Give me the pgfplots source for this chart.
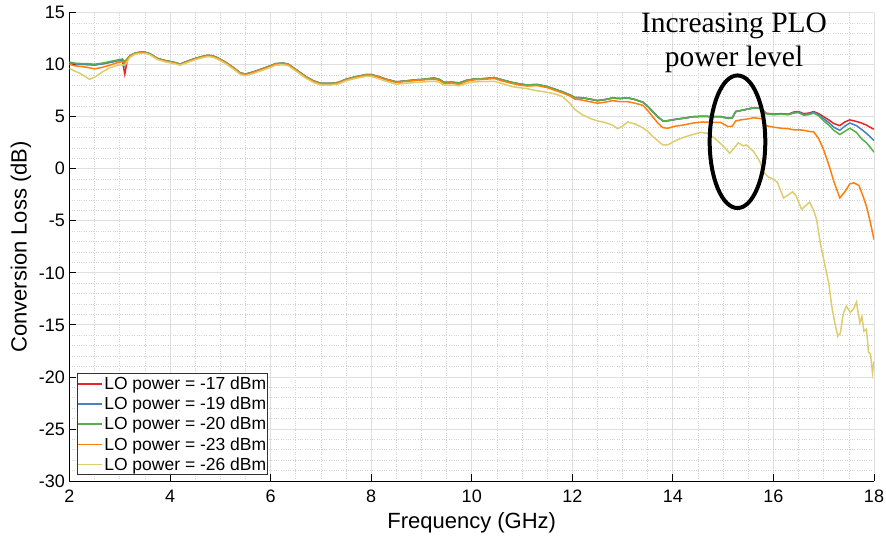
\documentclass[border=0pt]{standalone}
\usepackage{pgfplots}
\pgfplotsset{compat=1.18}
\usepackage{pgfplotstable}
\usepackage{fontspec}
\setmainfont{Liberation Sans}
\newfontfamily\timesfont{Liberation Serif}

\definecolor{cred}{RGB}{228,38,40}
\definecolor{cblue}{RGB}{70,130,195}
\definecolor{cgreen}{RGB}{85,175,75}
\definecolor{corange}{RGB}{255,127,14}
\definecolor{cyellow}{RGB}{222,205,110}

\pgfplotstableread{
x y
2.0 10.2
2.1 10.1
2.2 10.05
2.35 10.02
2.5 9.98
2.65 10.08
2.8 10.22
2.95 10.4
3.05 10.4
3.1 9.1
3.15 10.45
3.2 10.85
3.3 11.1
3.4 11.2
3.5 11.2
3.6 11.05
3.75 10.6
3.9 10.4
4.0 10.3
4.1 10.2
4.2 10.05
4.35 10.35
4.5 10.6
4.65 10.8
4.75 10.9
4.85 10.85
4.95 10.65
5.1 10.25
5.25 9.75
5.4 9.2
5.5 9.1
5.65 9.3
5.8 9.55
6.0 9.9
6.1 10.1
6.25 10.15
6.35 10.05
6.5 9.55
6.7 8.85
6.85 8.45
7.0 8.2
7.2 8.2
7.35 8.3
7.5 8.6
7.7 8.85
7.9 9.05
8.0 9.05
8.15 8.85
8.3 8.6
8.5 8.35
8.7 8.45
8.9 8.55
9.05 8.6
9.25 8.72
9.35 8.6
9.45 8.3
9.6 8.32
9.75 8.25
9.9 8.5
10.05 8.62
10.25 8.66
10.45 8.76
10.6 8.55
10.8 8.3
10.95 8.15
11.1 8.05
11.3 8.1
11.5 7.9
11.65 7.65
11.8 7.4
11.95 7.1
12.05 6.85
12.2 6.82
12.35 6.7
12.5 6.55
12.65 6.65
12.8 6.8
12.95 6.75
13.1 6.82
13.25 6.65
13.4 6.4
13.5 6.0
13.6 5.5
13.7 5.0
13.8 4.6
13.9 4.62
14.05 4.75
14.2 4.85
14.4 5.0
14.6 5.05
14.8 5.0
14.95 5.02
15.1 4.85
15.18 4.9
15.25 5.5
15.35 5.6
15.5 5.75
15.6 5.85
15.7 5.85
15.78 5.7
15.85 5.35
16.0 5.25
16.15 5.3
16.3 5.25
16.4 5.45
16.5 5.5
16.6 5.3
16.7 5.35
16.8 5.5
16.9 5.3
17.0 5.0
17.1 4.7
17.2 4.35
17.32 4.15
17.42 4.5
17.52 4.7
17.65 4.55
17.75 4.4
17.85 4.2
17.92 4.0
18.0 3.8
}\tred

\pgfplotstableread{
x y
2.0 10.2
2.1 10.1
2.2 10.05
2.35 10.02
2.5 9.98
2.65 10.08
2.8 10.22
2.95 10.38
3.05 10.45
3.1 9.85
3.15 10.5
3.2 10.85
3.3 11.1
3.4 11.2
3.5 11.2
3.6 11.05
3.75 10.6
3.9 10.4
4.0 10.3
4.1 10.2
4.2 10.05
4.35 10.35
4.5 10.6
4.65 10.8
4.75 10.9
4.85 10.85
4.95 10.65
5.1 10.25
5.25 9.75
5.4 9.2
5.5 9.1
5.65 9.3
5.8 9.55
6.0 9.9
6.1 10.1
6.25 10.15
6.35 10.05
6.5 9.55
6.7 8.85
6.85 8.45
7.0 8.2
7.2 8.2
7.35 8.3
7.5 8.6
7.7 8.85
7.9 9.05
8.0 9.05
8.15 8.85
8.3 8.6
8.5 8.35
8.7 8.45
8.9 8.55
9.05 8.6
9.25 8.72
9.35 8.6
9.45 8.3
9.6 8.32
9.75 8.25
9.9 8.5
10.05 8.62
10.25 8.66
10.45 8.76
10.6 8.55
10.8 8.3
10.95 8.15
11.1 8.05
11.3 8.1
11.5 7.9
11.65 7.65
11.8 7.4
11.95 7.1
12.05 6.85
12.2 6.82
12.35 6.7
12.5 6.55
12.65 6.65
12.8 6.8
12.95 6.75
13.1 6.82
13.25 6.65
13.4 6.4
13.5 6.0
13.6 5.5
13.7 5.0
13.8 4.6
13.9 4.62
14.05 4.75
14.2 4.85
14.4 5.0
14.6 5.05
14.8 5.0
14.95 5.02
15.1 4.85
15.18 4.9
15.25 5.5
15.35 5.6
15.5 5.75
15.6 5.85
15.7 5.85
15.78 5.7
15.85 5.3
16.0 5.22
16.15 5.28
16.3 5.22
16.4 5.4
16.5 5.45
16.6 5.2
16.7 5.28
16.8 5.42
16.9 5.2
17.0 4.8
17.1 4.45
17.2 4.0
17.32 3.7
17.42 4.1
17.52 4.4
17.65 4.15
17.75 3.8
17.85 3.4
17.92 3.1
18.0 2.7
}\tblue

\pgfplotstableread{
x y
2.0 10.25
2.1 10.15
2.2 10.12
2.35 10.1
2.5 10.05
2.65 10.15
2.8 10.3
2.95 10.45
3.05 10.55
3.1 10.3
3.15 10.6
3.2 10.85
3.3 11.1
3.4 11.2
3.5 11.2
3.6 11.05
3.75 10.6
3.9 10.4
4.0 10.3
4.1 10.2
4.2 10.05
4.35 10.35
4.5 10.6
4.65 10.8
4.75 10.9
4.85 10.85
4.95 10.65
5.1 10.25
5.25 9.75
5.4 9.2
5.5 9.1
5.65 9.3
5.8 9.55
6.0 9.9
6.1 10.1
6.25 10.15
6.35 10.05
6.5 9.55
6.7 8.85
6.85 8.45
7.0 8.2
7.2 8.2
7.35 8.3
7.5 8.6
7.7 8.85
7.9 9.05
8.0 9.05
8.15 8.85
8.3 8.6
8.5 8.35
8.7 8.45
8.9 8.55
9.05 8.6
9.25 8.72
9.35 8.6
9.45 8.3
9.6 8.32
9.75 8.25
9.9 8.5
10.05 8.62
10.25 8.66
10.45 8.76
10.6 8.55
10.8 8.3
10.95 8.15
11.1 8.05
11.3 8.1
11.5 7.9
11.65 7.65
11.8 7.4
11.95 7.1
12.05 6.85
12.2 6.82
12.35 6.7
12.5 6.55
12.65 6.65
12.8 6.8
12.95 6.75
13.1 6.82
13.25 6.65
13.4 6.4
13.5 6.0
13.6 5.5
13.7 5.0
13.8 4.6
13.9 4.62
14.05 4.75
14.2 4.85
14.4 5.0
14.6 5.05
14.8 5.0
14.95 5.02
15.1 4.85
15.18 4.9
15.25 5.5
15.35 5.6
15.5 5.75
15.6 5.85
15.7 5.85
15.78 5.7
15.85 5.3
16.0 5.2
16.15 5.25
16.3 5.2
16.4 5.35
16.5 5.4
16.6 5.15
16.7 5.2
16.8 5.35
16.9 5.1
17.0 4.6
17.1 4.2
17.2 3.7
17.32 3.3
17.42 3.6
17.52 3.9
17.65 3.5
17.75 2.9
17.85 2.5
17.92 2.1
18.0 1.6
}\tgreen

\pgfplotstableread{
x y
2.0 10.05
2.1 9.9
2.2 9.85
2.35 9.75
2.5 9.6
2.65 9.75
2.8 9.95
2.95 10.2
3.05 10.3
3.1 10.15
3.15 10.5
3.2 10.8
3.3 11.05
3.4 11.15
3.5 11.15
3.6 11.0
3.75 10.55
3.9 10.35
4.0 10.25
4.1 10.15
4.2 10.0
4.35 10.3
4.5 10.55
4.65 10.75
4.75 10.85
4.85 10.8
4.95 10.6
5.1 10.2
5.25 9.7
5.4 9.15
5.5 9.05
5.65 9.25
5.8 9.5
6.0 9.85
6.1 10.05
6.25 10.1
6.35 10.0
6.5 9.5
6.7 8.8
6.85 8.4
7.0 8.15
7.2 8.15
7.35 8.25
7.5 8.55
7.7 8.8
7.9 9.0
8.0 9.0
8.15 8.8
8.3 8.55
8.5 8.3
8.7 8.4
8.9 8.5
9.05 8.55
9.25 8.62
9.35 8.5
9.45 8.2
9.6 8.25
9.75 8.1
9.9 8.42
10.05 8.55
10.25 8.6
10.45 8.68
10.6 8.45
10.8 8.2
10.95 8.05
11.1 7.95
11.3 8.0
11.5 7.8
11.65 7.55
11.8 7.3
11.95 7.0
12.05 6.7
12.2 6.6
12.35 6.45
12.5 6.3
12.65 6.4
12.8 6.55
12.95 6.45
13.1 6.45
13.25 6.3
13.4 6.1
13.5 5.6
13.6 5.0
13.7 4.4
13.8 3.95
13.9 3.9
14.05 4.1
14.2 4.2
14.4 4.4
14.6 4.5
14.8 4.45
14.95 4.45
15.1 4.05
15.18 4.1
15.25 4.6
15.35 4.7
15.5 4.8
15.6 4.9
15.7 4.85
15.78 4.8
15.85 4.15
16.0 4.0
16.15 3.9
16.3 3.85
16.4 3.75
16.5 3.75
16.6 3.7
16.7 3.6
16.8 3.55
16.9 2.9
17.0 1.8
17.1 0.4
17.2 -1.2
17.32 -2.8
17.42 -2.2
17.52 -1.45
17.6 -1.35
17.7 -1.6
17.78 -2.6
17.85 -3.6
17.92 -5.0
18.0 -6.8
}\torange

\pgfplotstableread{
x y
2.0 9.65
2.1 9.4
2.2 9.2
2.3 8.9
2.4 8.6
2.5 8.8
2.65 9.3
2.8 9.7
2.95 9.95
3.05 10.0
3.1 9.95
3.15 10.3
3.2 10.7
3.3 11.0
3.4 11.1
3.5 11.1
3.6 10.95
3.75 10.5
3.9 10.28
4.0 10.18
4.1 10.08
4.2 9.95
4.35 10.22
4.5 10.48
4.65 10.68
4.75 10.78
4.85 10.72
4.95 10.52
5.1 10.12
5.25 9.62
5.4 9.05
5.5 8.95
5.65 9.15
5.8 9.4
6.0 9.75
6.1 9.95
6.25 10.0
6.35 9.9
6.5 9.4
6.7 8.7
6.85 8.3
7.0 8.05
7.2 8.05
7.35 8.15
7.5 8.45
7.7 8.7
7.9 8.88
8.0 8.88
8.15 8.65
8.3 8.4
8.5 8.12
8.7 8.22
8.9 8.3
9.05 8.35
9.25 8.42
9.35 8.3
9.45 8.05
9.6 8.05
9.75 7.98
9.9 8.22
10.05 8.35
10.25 8.38
10.45 8.4
10.6 8.2
10.8 7.9
10.95 7.8
11.1 7.7
11.3 7.5
11.5 7.35
11.65 7.2
11.8 6.95
11.95 6.3
12.05 5.7
12.2 5.2
12.35 4.85
12.5 4.6
12.65 4.45
12.8 4.2
12.9 3.85
13.0 4.1
13.1 4.5
13.25 4.3
13.4 3.95
13.5 3.6
13.6 3.1
13.7 2.7
13.8 2.3
13.9 2.3
14.05 2.7
14.2 3.0
14.4 3.3
14.55 3.5
14.7 3.4
14.85 2.85
15.0 2.2
15.13 1.5
15.22 2.0
15.3 2.5
15.4 2.2
15.46 2.3
15.6 1.7
15.73 0.7
15.8 -0.3
15.9 -0.8
16.0 -1.0
16.08 -1.3
16.2 -2.8
16.3 -2.5
16.38 -2.2
16.45 -2.6
16.56 -3.9
16.65 -3.5
16.72 -3.2
16.8 -4.0
16.86 -4.9
16.93 -7.1
17.03 -9.4
17.1 -11.0
17.16 -13.2
17.22 -14.8
17.28 -16.1
17.33 -15.8
17.39 -13.9
17.45 -13.2
17.53 -13.8
17.6 -13.4
17.65 -12.8
17.72 -14.8
17.76 -14.2
17.8 -15.6
17.85 -15.4
17.89 -17.6
17.93 -17.8
17.97 -19.6
18.0 -18.5
}\tyellow

\begin{document}
\begin{tikzpicture}
\begin{axis}[
  scale only axis,
  width=804.5pt, height=468.3pt,
  xmin=2, xmax=18, ymin=-30, ymax=15,
  axis x line*=bottom, axis y line*=left,
  axis line style={black, line width=0.8pt},
  xtick={2,4,...,18},
  xticklabels={2,4,6,8,10,12,14,16,18},
  ytick={-30,-25,...,15},
  yticklabels={-30,-25,-20,-15,-10,-5,0,5,10,15},
  minor x tick num=3, minor y tick num=4,
  tick align=inside,
  major tick length=7pt, minor tick length=0pt,
  tick style={black, line width=0.8pt},
  grid=both,
  major grid style={gray!25, line width=0.8pt},
  minor grid style={gray!35, dotted, line width=0.6pt},
  ticklabel style={font=\fontsize{18}{21}\selectfont},
  yticklabel style={inner sep=0pt, xshift=-4.5pt},
  xticklabel style={inner sep=0pt, yshift=-9pt},
  xlabel={Frequency (GHz)},
  ylabel={Conversion Loss (dB)},
  label style={font=\fontsize{22}{26}\selectfont},
  xlabel style={at={(axis description cs:0.5,0)}, anchor=center, yshift=-42pt},
  ylabel style={at={(axis description cs:0,0.5)}, anchor=center, yshift=48.5pt},
  legend style={at={(0,0)}, anchor=south west, xshift=7.5pt, yshift=6pt,
    draw=black!80, line width=0.6pt, inner sep=0pt, row sep=0pt,
    font=\fontsize{17.5}{20}\selectfont,
    nodes={inner xsep=1.5pt, inner ysep=3pt}},
  legend cell align=left,
  legend image code/.code={\draw[#1, line width=1.5pt] (0pt,0pt) -- (24pt,0pt);},
  every axis plot/.append style={line width=1.5pt},
]
\addplot[cred] table {\tred};
\addlegendentry{LO power = -17 dBm}
\addplot[cblue] table {\tblue};
\addlegendentry{LO power = -19 dBm}
\addplot[cgreen] table {\tgreen};
\addlegendentry{LO power = -20 dBm}
\addplot[corange] table {\torange};
\addlegendentry{LO power = -23 dBm}
\addplot[cyellow] table {\tyellow};
\addlegendentry{LO power = -26 dBm}

\draw[black, line width=4pt] (axis cs:15.285,2.6) ellipse [x radius=27.8pt, y radius=66.3pt];
\node[anchor=base, inner sep=0pt, font=\timesfont\fontsize{29.5}{34}\selectfont] at (axis cs:15.216,13.12) {Increasing PLO};
\node[anchor=base, inner sep=0pt, font=\timesfont\fontsize{29.5}{34}\selectfont] at (axis cs:15.216,9.81) {power level};
\end{axis}
\pgfresetboundingbox
\path ([shift={(-69.5pt,-62pt)}]current axis.south west) rectangle ([shift={(12pt,12.7pt)}]current axis.north east);
\end{tikzpicture}
\end{document}
